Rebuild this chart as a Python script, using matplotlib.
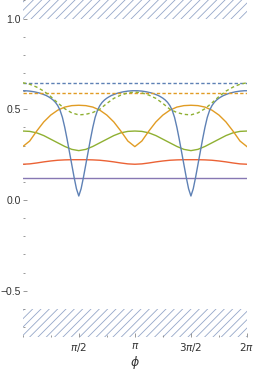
import numpy as np
import matplotlib
matplotlib.use("Agg")
import matplotlib.pyplot as plt
from matplotlib.ticker import FixedLocator, MultipleLocator

plt.rcParams['font.family'] = ['Liberation Sans', 'DejaVu Sans']
plt.rcParams['mathtext.fontset'] = 'dejavusans'
plt.rcParams['hatch.linewidth'] = 0.6

# ---------------- data ----------------
# fine grid for the blue curve: 97 samples over [0, 2pi]
blue_solid = [
    0.602, 0.602, 0.601, 0.600, 0.598, 0.596, 0.593, 0.590, 0.586, 0.581, 0.576, 0.569, 0.561,
    0.551, 0.538, 0.520, 0.494, 0.455, 0.400, 0.335, 0.265, 0.195, 0.125, 0.062, 0.022,
    0.062, 0.125, 0.195, 0.265, 0.335, 0.400, 0.455, 0.494, 0.520, 0.538, 0.551, 0.561, 0.569,
    0.576, 0.581, 0.586, 0.590, 0.593, 0.596, 0.598, 0.600, 0.601, 0.602, 0.602,
    0.602, 0.601, 0.600, 0.598, 0.596, 0.593, 0.590, 0.586, 0.581, 0.576, 0.569, 0.561,
    0.551, 0.538, 0.520, 0.494, 0.455, 0.400, 0.335, 0.265, 0.195, 0.125, 0.062, 0.022,
    0.062, 0.125, 0.195, 0.265, 0.335, 0.400, 0.455, 0.494, 0.520, 0.538, 0.551, 0.561, 0.569,
    0.576, 0.581, 0.586, 0.590, 0.593, 0.596, 0.598, 0.600, 0.601, 0.602, 0.602,
]
# coarse grid for the smoother curves: 33 samples over [0, 2pi]
orange_solid = [
    0.294, 0.325, 0.380, 0.430, 0.468, 0.495, 0.512, 0.520, 0.522,
    0.520, 0.512, 0.495, 0.468, 0.430, 0.380, 0.325, 0.294,
    0.325, 0.380, 0.430, 0.468, 0.495, 0.512, 0.520, 0.522,
    0.520, 0.512, 0.495, 0.468, 0.430, 0.380, 0.325, 0.294,
]
green_solid = [
    0.380, 0.378, 0.370, 0.355, 0.335, 0.315, 0.295, 0.279, 0.272,
    0.279, 0.295, 0.315, 0.335, 0.355, 0.370, 0.378, 0.380,
    0.378, 0.370, 0.355, 0.335, 0.315, 0.295, 0.279, 0.272,
    0.279, 0.295, 0.315, 0.335, 0.355, 0.370, 0.378, 0.380,
]
red_solid = [
    0.197, 0.199, 0.204, 0.210, 0.215, 0.219, 0.221, 0.222, 0.222,
    0.222, 0.221, 0.219, 0.215, 0.210, 0.204, 0.199, 0.197,
    0.199, 0.204, 0.210, 0.215, 0.219, 0.221, 0.222, 0.222,
    0.222, 0.221, 0.219, 0.215, 0.210, 0.204, 0.199, 0.197,
]
purple_solid = [
    0.121, 0.121, 0.121, 0.121, 0.121, 0.121, 0.121, 0.121, 0.121,
    0.121, 0.121, 0.121, 0.121, 0.121, 0.121, 0.121, 0.121,
    0.121, 0.121, 0.121, 0.121, 0.121, 0.121, 0.121, 0.121,
    0.121, 0.121, 0.121, 0.121, 0.121, 0.121, 0.121, 0.121,
]
green_dashed = [
    0.646, 0.638, 0.622, 0.600, 0.570, 0.535, 0.503, 0.480, 0.469,
    0.472, 0.482, 0.500, 0.532, 0.560, 0.578, 0.590, 0.595,
    0.590, 0.578, 0.560, 0.532, 0.500, 0.482, 0.472, 0.469,
    0.480, 0.503, 0.535, 0.570, 0.600, 0.622, 0.638, 0.646,
]
blue_dashed_level = 0.643
orange_dashed_level = 0.591

x_ticks = [np.pi / 2, np.pi, 3 * np.pi / 2, 2 * np.pi]
x_tick_labels = [r'$\pi/2$', r'$\pi$', r'$3\pi/2$', r'$2\pi$']
y_ticks = [-0.5, 0.0, 0.5, 1.0]
y_tick_labels = ['\u22120.5', '0.0', '0.5', '1.0']
excluded_top = (1.0, 1.2)
excluded_bottom = (-0.8, -0.6)

# ---------------- drawing ----------------
phi_fine = np.linspace(0, 2 * np.pi, len(blue_solid))
phi = np.linspace(0, 2 * np.pi, len(orange_solid))
phi_ends = np.array([0, 2 * np.pi])

C_BLUE = '#5E81B5'
C_ORANGE = '#E19C24'
C_GREEN = '#8FB032'
C_RED = '#EB6235'
C_PURPLE = '#8778B3'

fig = plt.figure(figsize=(2.54, 3.71), dpi=100)
ax = fig.add_axes([0.0894, 0.0916, 0.8830, 0.9084])

hatch_col = '#95a7c9'
ax.fill_between(phi_ends, excluded_top[0], excluded_top[1], facecolor='none',
                edgecolor=hatch_col, hatch='////', linewidth=0)
ax.fill_between(phi_ends, excluded_bottom[0], excluded_bottom[1], facecolor='none',
                edgecolor=hatch_col, hatch='////', linewidth=0)

lw = 1.0
ax.plot(phi, purple_solid, color=C_PURPLE, lw=lw)
ax.plot(phi, red_solid, color=C_RED, lw=lw)
ax.plot(phi, green_solid, color=C_GREEN, lw=lw)
ax.plot(phi, orange_solid, color=C_ORANGE, lw=lw)
ax.plot(phi_fine, blue_solid, color=C_BLUE, lw=lw)
ax.plot(phi_ends, [orange_dashed_level] * 2, color=C_ORANGE, lw=lw, dashes=(2.4, 1.6))
ax.plot(phi_ends, [blue_dashed_level] * 2, color=C_BLUE, lw=lw, dashes=(2.4, 1.6))
ax.plot(phi, green_dashed, color=C_GREEN, lw=lw, dashes=(2.4, 2.0))

ax.set_xlim(0, 2 * np.pi)
ax.set_ylim(-0.755, 1.102)

for s in ax.spines.values():
    s.set_visible(False)

ax.xaxis.set_major_locator(FixedLocator(x_ticks))
ax.set_xticklabels(x_tick_labels)
ax.xaxis.set_minor_locator(MultipleLocator(np.pi / 4))
ax.yaxis.set_major_locator(FixedLocator(y_ticks))
ax.set_yticklabels(y_tick_labels)
ax.yaxis.set_minor_locator(MultipleLocator(0.1))

ax.tick_params(which='both', direction='in', colors='#888888', labelcolor='#333333',
               labelsize=7.5, width=0.6)
ax.tick_params(which='major', length=3, pad=1.2)
ax.tick_params(which='minor', length=1.5)
ax.tick_params(axis='x', which='major', pad=3)

ax.set_xlabel(r'$\phi$', fontsize=9, color='#333333', labelpad=0)

fig.savefig('out.png', dpi=100)
